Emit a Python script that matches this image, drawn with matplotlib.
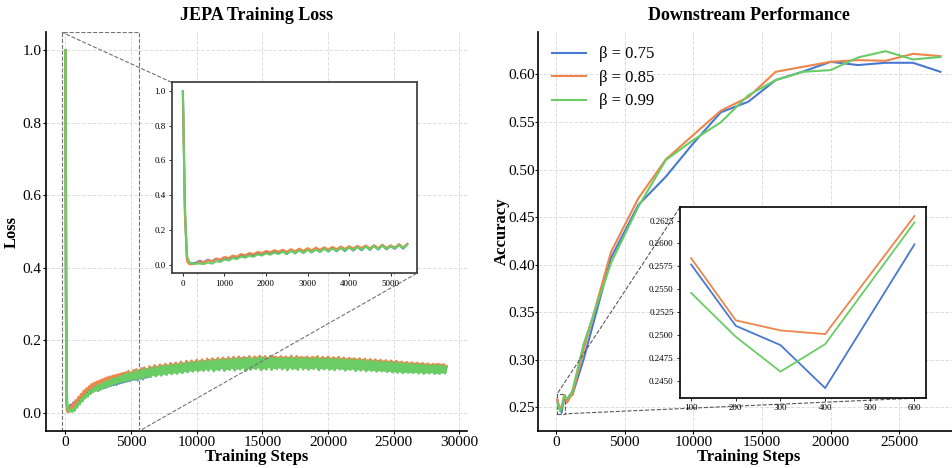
import numpy as np
import matplotlib
matplotlib.use("Agg")
import matplotlib.pyplot as plt
from matplotlib.ticker import FormatStrFormatter
from mpl_toolkits.axes_grid1.inset_locator import mark_inset

plt.rcParams["font.family"] = ["Liberation Serif", "DejaVu Serif"]

colors = ["#4878d0", "#ee854a", "#6acc64"]
labels = ["β = 0.75", "β = 0.85", "β = 0.99"]

# ---- training loss (logged every 100 steps after warm-up) ----
loss_steps = np.concatenate([[0, 50, 100, 150, 200, 300], np.arange(400, 29001, 100)])

loss_b075 = [1.0, 0.30, 0.03, 0.012, 0.008, 0.010,
             0.022, 0.014, 0.028, 0.020, 0.034, 0.026, 0.041, 0.033, 0.048, 0.040, 0.056, 0.047, 0.062, 0.053, 0.068, 0.058, 0.073, 0.062, 0.077, 0.065,
             0.079, 0.061, 0.083, 0.065, 0.087, 0.068, 0.090, 0.070, 0.093, 0.073, 0.095, 0.075, 0.097, 0.077, 0.099, 0.078, 0.101, 0.081, 0.103, 0.083,
             0.106, 0.085, 0.109, 0.087, 0.112, 0.088, 0.108, 0.091, 0.115, 0.092, 0.118, 0.090, 0.114, 0.095, 0.121, 0.093, 0.123, 0.097, 0.119, 0.099,
             0.126, 0.101, 0.123, 0.106, 0.129, 0.103, 0.125, 0.108, 0.131, 0.105, 0.128, 0.110, 0.133, 0.107, 0.129, 0.112, 0.135, 0.109, 0.131, 0.113,
             0.136, 0.110, 0.132, 0.115, 0.139, 0.112, 0.134, 0.117, 0.141, 0.114, 0.137, 0.119, 0.142, 0.116, 0.138, 0.120, 0.144, 0.117, 0.140, 0.121,
             0.145, 0.118, 0.141, 0.123, 0.147, 0.119, 0.143, 0.124, 0.148, 0.117, 0.144, 0.122, 0.149, 0.120, 0.145, 0.125, 0.150, 0.118, 0.146, 0.123,
             0.151, 0.121, 0.147, 0.126, 0.152, 0.119, 0.148, 0.124, 0.153, 0.122, 0.149, 0.127, 0.152, 0.118, 0.150, 0.125, 0.154, 0.121, 0.148, 0.126,
             0.153, 0.123, 0.150, 0.127, 0.155, 0.120, 0.151, 0.125, 0.154, 0.122, 0.149, 0.128, 0.155, 0.121, 0.152, 0.126, 0.153, 0.123, 0.150, 0.127,
             0.154, 0.122, 0.151, 0.126, 0.153, 0.120, 0.150, 0.127, 0.155, 0.123, 0.149, 0.125, 0.154, 0.121, 0.151, 0.128, 0.152, 0.122, 0.150, 0.126,
             0.153, 0.121, 0.149, 0.126, 0.152, 0.123, 0.150, 0.127, 0.154, 0.120, 0.148, 0.125, 0.152, 0.122, 0.149, 0.126, 0.153, 0.121, 0.148, 0.124,
             0.151, 0.120, 0.148, 0.125, 0.152, 0.122, 0.147, 0.124, 0.150, 0.119, 0.146, 0.123, 0.149, 0.121, 0.147, 0.124, 0.148, 0.118, 0.145, 0.122,
             0.148, 0.119, 0.144, 0.122, 0.147, 0.117, 0.143, 0.121, 0.146, 0.118, 0.142, 0.120, 0.145, 0.116, 0.141, 0.119, 0.144, 0.117, 0.140, 0.118,
             0.143, 0.115, 0.139, 0.118, 0.142, 0.114, 0.138, 0.117, 0.141, 0.113, 0.137, 0.116, 0.139, 0.112, 0.136, 0.115, 0.138, 0.113, 0.135, 0.114,
             0.137, 0.112, 0.134, 0.115, 0.136, 0.111, 0.133, 0.114, 0.135, 0.110, 0.132, 0.113, 0.134, 0.111, 0.131, 0.114, 0.133, 0.110, 0.132, 0.112,
             0.133, 0.110, 0.131, 0.113, 0.132, 0.111, 0.127]

loss_b085 = [1.0, 0.28, 0.02, 0.004, 0.002, 0.006,
             0.018, 0.012, 0.026, 0.019, 0.035, 0.029, 0.044, 0.038, 0.052, 0.046, 0.061, 0.054, 0.067, 0.060, 0.073, 0.066, 0.079, 0.071, 0.083, 0.075,
             0.086, 0.074, 0.089, 0.077, 0.092, 0.079, 0.095, 0.082, 0.098, 0.085, 0.100, 0.087, 0.102, 0.089, 0.104, 0.091, 0.106, 0.093, 0.108, 0.095,
             0.110, 0.094, 0.112, 0.095, 0.115, 0.096, 0.111, 0.098, 0.118, 0.099, 0.120, 0.097, 0.116, 0.101, 0.123, 0.099, 0.125, 0.103, 0.121, 0.105,
             0.128, 0.103, 0.125, 0.108, 0.131, 0.105, 0.127, 0.110, 0.133, 0.107, 0.130, 0.112, 0.135, 0.109, 0.131, 0.114, 0.137, 0.111, 0.133, 0.115,
             0.138, 0.111, 0.134, 0.116, 0.141, 0.113, 0.136, 0.118, 0.143, 0.115, 0.139, 0.120, 0.144, 0.117, 0.140, 0.121, 0.146, 0.118, 0.142, 0.122,
             0.147, 0.119, 0.143, 0.124, 0.149, 0.120, 0.145, 0.125, 0.150, 0.118, 0.146, 0.123, 0.151, 0.121, 0.147, 0.126, 0.152, 0.119, 0.148, 0.124,
             0.153, 0.122, 0.149, 0.127, 0.154, 0.120, 0.150, 0.125, 0.155, 0.123, 0.151, 0.128, 0.154, 0.119, 0.152, 0.126, 0.156, 0.122, 0.150, 0.127,
             0.155, 0.124, 0.152, 0.128, 0.157, 0.121, 0.153, 0.126, 0.156, 0.123, 0.151, 0.129, 0.157, 0.122, 0.154, 0.127, 0.155, 0.124, 0.152, 0.128,
             0.156, 0.123, 0.153, 0.127, 0.155, 0.121, 0.152, 0.128, 0.157, 0.124, 0.151, 0.126, 0.156, 0.122, 0.153, 0.129, 0.154, 0.123, 0.152, 0.127,
             0.155, 0.122, 0.151, 0.127, 0.154, 0.124, 0.152, 0.128, 0.156, 0.121, 0.150, 0.126, 0.154, 0.123, 0.151, 0.127, 0.155, 0.122, 0.150, 0.125,
             0.153, 0.121, 0.150, 0.126, 0.154, 0.123, 0.149, 0.125, 0.152, 0.120, 0.148, 0.124, 0.151, 0.122, 0.149, 0.125, 0.150, 0.119, 0.147, 0.123,
             0.150, 0.120, 0.146, 0.123, 0.149, 0.118, 0.145, 0.122, 0.148, 0.119, 0.144, 0.121, 0.147, 0.117, 0.143, 0.120, 0.146, 0.118, 0.142, 0.119,
             0.145, 0.116, 0.141, 0.119, 0.144, 0.115, 0.140, 0.118, 0.143, 0.114, 0.139, 0.117, 0.141, 0.113, 0.138, 0.116, 0.140, 0.114, 0.137, 0.115,
             0.139, 0.113, 0.136, 0.116, 0.138, 0.112, 0.135, 0.115, 0.137, 0.111, 0.134, 0.114, 0.136, 0.112, 0.133, 0.115, 0.135, 0.111, 0.134, 0.113,
             0.135, 0.111, 0.133, 0.114, 0.134, 0.112, 0.129]

loss_b099 = [1.0, 0.34, 0.05, 0.016, 0.008, 0.005,
             0.007, 0.003, 0.012, 0.006, 0.020, 0.015, 0.029, 0.024, 0.037, 0.032, 0.046, 0.040, 0.052, 0.045, 0.059, 0.052, 0.065, 0.057, 0.069, 0.061,
             0.074, 0.062, 0.078, 0.066, 0.081, 0.068, 0.084, 0.071, 0.087, 0.074, 0.090, 0.077, 0.093, 0.079, 0.095, 0.082, 0.098, 0.084, 0.100, 0.086,
             0.104, 0.087, 0.107, 0.089, 0.110, 0.090, 0.106, 0.093, 0.113, 0.094, 0.116, 0.092, 0.112, 0.097, 0.119, 0.095, 0.121, 0.099, 0.117, 0.101,
             0.124, 0.099, 0.121, 0.104, 0.127, 0.101, 0.123, 0.106, 0.129, 0.103, 0.126, 0.108, 0.131, 0.105, 0.127, 0.110, 0.133, 0.107, 0.129, 0.111,
             0.134, 0.108, 0.130, 0.113, 0.137, 0.110, 0.132, 0.115, 0.139, 0.112, 0.135, 0.117, 0.140, 0.114, 0.136, 0.118, 0.142, 0.115, 0.138, 0.119,
             0.143, 0.116, 0.139, 0.121, 0.145, 0.117, 0.141, 0.122, 0.146, 0.115, 0.142, 0.120, 0.147, 0.118, 0.143, 0.123, 0.148, 0.116, 0.144, 0.121,
             0.149, 0.119, 0.145, 0.124, 0.150, 0.117, 0.146, 0.122, 0.151, 0.120, 0.147, 0.125, 0.150, 0.116, 0.148, 0.123, 0.152, 0.119, 0.146, 0.124,
             0.151, 0.121, 0.148, 0.125, 0.153, 0.118, 0.149, 0.123, 0.152, 0.120, 0.147, 0.126, 0.153, 0.119, 0.150, 0.124, 0.151, 0.121, 0.148, 0.125,
             0.152, 0.120, 0.149, 0.124, 0.151, 0.118, 0.148, 0.125, 0.153, 0.121, 0.147, 0.123, 0.152, 0.119, 0.149, 0.126, 0.150, 0.120, 0.148, 0.124,
             0.151, 0.119, 0.147, 0.124, 0.150, 0.121, 0.148, 0.125, 0.152, 0.118, 0.146, 0.123, 0.150, 0.120, 0.147, 0.124, 0.151, 0.119, 0.146, 0.122,
             0.149, 0.118, 0.146, 0.123, 0.150, 0.120, 0.145, 0.122, 0.148, 0.117, 0.144, 0.121, 0.147, 0.119, 0.145, 0.122, 0.146, 0.116, 0.143, 0.120,
             0.146, 0.117, 0.142, 0.120, 0.145, 0.115, 0.141, 0.119, 0.144, 0.116, 0.140, 0.118, 0.143, 0.114, 0.139, 0.117, 0.142, 0.115, 0.138, 0.116,
             0.141, 0.113, 0.137, 0.116, 0.140, 0.112, 0.136, 0.115, 0.139, 0.111, 0.135, 0.114, 0.137, 0.110, 0.134, 0.113, 0.136, 0.111, 0.133, 0.112,
             0.135, 0.110, 0.132, 0.113, 0.134, 0.109, 0.131, 0.112, 0.133, 0.108, 0.130, 0.111, 0.132, 0.109, 0.129, 0.112, 0.131, 0.108, 0.130, 0.110,
             0.131, 0.108, 0.129, 0.111, 0.130, 0.109, 0.125]

# ---- downstream accuracy ----
eval_steps = [100, 200, 300, 400, 600, 800, 1000, 1200, 2000, 4000, 6000, 8000,
              10000, 12000, 14000, 16000, 18000, 20000, 22000, 24000, 26000, 28000]
acc_b075 = [0.2577, 0.2510, 0.2489, 0.2442, 0.2599, 0.2557, 0.2630, 0.2633, 0.3000,
            0.4070, 0.4628, 0.4925, 0.5276, 0.5601, 0.5712, 0.5940, 0.6030, 0.6132,
            0.6098, 0.6122, 0.6122, 0.6027]
acc_b085 = [0.2584, 0.2516, 0.2505, 0.2501, 0.2630, 0.2548, 0.2600, 0.2640, 0.3100,
            0.4131, 0.4698, 0.5107, 0.5363, 0.5618, 0.5760, 0.6027, 0.6080, 0.6132,
            0.6150, 0.6143, 0.6216, 0.6192]
acc_b099 = [0.2546, 0.2498, 0.2460, 0.2490, 0.2623, 0.2590, 0.2620, 0.2680, 0.3160,
            0.4016, 0.4611, 0.5100, 0.5310, 0.5496, 0.5780, 0.5940, 0.6027, 0.6045,
            0.6178, 0.6244, 0.6157, 0.6183]

loss_series = [loss_b075, loss_b085, loss_b099]
acc_series = [acc_b075, acc_b085, acc_b099]

fig = plt.figure(figsize=(9.53, 4.68), dpi=100)
ax1 = fig.add_axes([0.0486, 0.0791, 0.4411, 0.852])
ax2 = fig.add_axes([0.5648, 0.0791, 0.4421, 0.852])


def style_axis(ax):
    ax.grid(True, color="#dddddd", linestyle="--", linewidth=0.7)
    ax.set_axisbelow(True)
    for side in ["top", "right"]:
        ax.spines[side].set_visible(False)
    for side in ["left", "bottom"]:
        ax.spines[side].set_color("black")
        ax.spines[side].set_linewidth(1.2)
    ax.tick_params(labelsize=11, length=2, width=0.8, pad=1.5)


# left: loss curves
for vals, c, lab in zip(loss_series, colors, labels):
    ax1.plot(loss_steps, vals, color=c, lw=1.8, label=lab)
style_axis(ax1)
ax1.set_xlim(-1455, 30555)
ax1.set_ylim(-0.05, 1.05)
ax1.set_xticks([0, 5000, 10000, 15000, 20000, 25000, 30000])
ax1.set_yticks([0.0, 0.2, 0.4, 0.6, 0.8, 1.0])
ax1.set_title("JEPA Training Loss", fontsize=13, fontweight="bold", pad=9)
ax1.set_xlabel("Training Steps", fontsize=12, fontweight="bold", labelpad=0)
ax1.set_ylabel("Loss", fontsize=12, fontweight="bold", labelpad=2)

ins1 = fig.add_axes([0.1802, 0.416, 0.2571, 0.408])
early = loss_steps <= 5400
for vals, c in zip(loss_series, colors):
    ins1.plot(loss_steps[early], np.array(vals)[early], color=c, lw=1.5)
ins1.set_xlim(-268, 5628)
ins1.set_ylim(-0.05, 1.05)
ins1.set_xticks([0, 1000, 2000, 3000, 4000, 5000])
ins1.set_yticks([0.0, 0.2, 0.4, 0.6, 0.8, 1.0])
ins1.tick_params(labelsize=6.5, length=2.5, width=0.6, pad=2)
for s in ins1.spines.values():
    s.set_color("#444444")
    s.set_linewidth(1.3)
mark_inset(ax1, ins1, loc1=2, loc2=4, fc="none", ec="0.45", ls="--", lw=0.8)

# right: downstream accuracy
for vals, c, lab in zip(acc_series, colors, labels):
    ax2.plot(eval_steps, vals, color=c, lw=1.5, label=lab)
style_axis(ax2)
ax2.set_xlim(-1295, 29395)
ax2.set_ylim(0.2251, 0.6443)
ax2.set_xticks([0, 5000, 10000, 15000, 20000, 25000])
ax2.set_yticks([0.25, 0.30, 0.35, 0.40, 0.45, 0.50, 0.55, 0.60])
ax2.yaxis.set_major_formatter(FormatStrFormatter("%.2f"))
ax2.tick_params(axis="y", pad=0.5)
ax2.set_title("Downstream Performance", fontsize=13, fontweight="bold", pad=9)
ax2.set_xlabel("Training Steps", fontsize=12, fontweight="bold", labelpad=0)
ax2.set_ylabel("Accuracy", fontsize=12, fontweight="bold", labelpad=-1)
ax2.legend(loc="upper left", fontsize=12, frameon=False, handlelength=2.0,
           handletextpad=0.8, labelspacing=0.45, borderaxespad=0.45)

ins2 = fig.add_axes([0.7135, 0.1502, 0.2578, 0.4068])
for vals, c in zip(acc_series, colors):
    ins2.plot(eval_steps[:5], vals[:5], color=c, lw=1.3)
ins2.set_xlim(75, 625)
ins2.set_ylim(0.24315, 0.26395)
ins2.set_xticks([100, 200, 300, 400, 500, 600])
ins2.set_yticks([0.2450, 0.2475, 0.2500, 0.2525, 0.2550, 0.2575, 0.2600, 0.2625])
ins2.yaxis.set_major_formatter(FormatStrFormatter("%.4f"))
ins2.tick_params(labelsize=6.5, length=2.5, width=0.6, pad=2)
for s in ins2.spines.values():
    s.set_color("black")
    s.set_linewidth(1.2)
mark_inset(ax2, ins2, loc1=2, loc2=4, fc="none", ec="0.35", ls="--", lw=0.8)

fig.savefig("out.png", dpi=100)
